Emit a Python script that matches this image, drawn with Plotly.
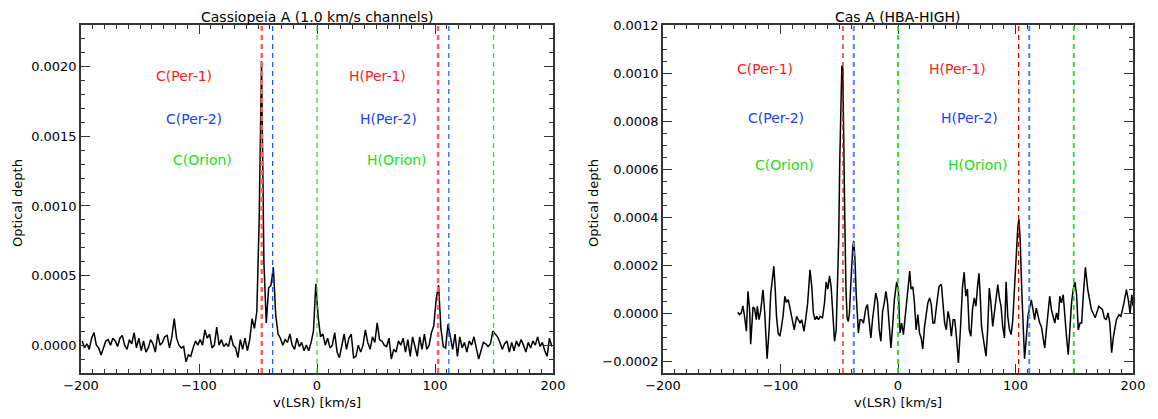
import numpy as np
import plotly.graph_objects as go

# ---------------- data ----------------
# Left panel: Cassiopeia A, 1.0 km/s channels (values in units of 1e-4 optical depth)
vel_left = np.arange(-199, 200, 2)
tau_left_e4 = [
    0.3, -0.2, 0.1, -0.3, 0.5, 0.9, 0.0, -0.2, -0.7, -0.2, 0.3, 0.4, 0.0, 0.5, 0.3, -0.1, 0.5, 0.7, 0.0, -0.3,
    0.4, 0.1, 0.9, -0.2, 0.5, -0.4, 0.3, -0.5, -0.2, 0.4, 0.1, -0.5, 0.8, 0.0, 0.2, 0.6, 0.7, -0.2, 0.6, 1.9,
    0.5, 0.0, -0.2, -0.1, -1.2, -0.7, -0.8, -0.2, 0.3, 0.0, 0.4, 0.0, 1.1, 0.5, 0.8, -0.2, 0.0, 1.3, 0.0, 0.4,
    -0.1, 0.1, -0.1, 0.7, 0.0, -0.2, -0.9, 0.4, -0.3, 0.5, -0.4, 0.4, 1.9, 1.2, 2.4, 9.0, 20.4, 6.0, 1.6, 4.1,
    4.3, 5.6, 2.2, 0.8, 0.5, 0.0, 0.4, 0.2, 0.8, 0.0, -0.3, 0.5, -0.1, 0.2, -0.4, 0.0, -0.4, 0.2, 1.0, 4.4,
    2.0, 0.6, 0.8, 0.0, 0.5, -0.2, 0.0, 0.9, -0.5, -0.9, 0.1, 0.8, -0.3, 0.5, 0.8, -0.9, -0.8, 0.0, -0.5, 0.0,
    1.1, 0.2, -0.3, 0.6, 0.2, 1.6, 0.4, 0.3, 0.0, -0.1, 0.5, -1.0, -0.3, -0.5, 0.3, 0.0, 0.5, -0.5, 0.4, -0.8,
    0.6, -0.2, -0.8, 0.6, -0.3, 0.8, -0.3, 0.0, 0.9, 1.4, 3.3, 4.3, 1.2, -0.1, -0.2, 1.5, 0.5, -0.3, 0.8, -0.8,
    0.6, -0.2, 0.2, -0.5, 0.3, 0.0, 0.6, -0.3, -1.0, -0.4, 0.2, 0.1, -0.1, 0.1, 1.0, 0.8, 0.6, 0.2, -0.3, 0.1,
    0.3, -0.5, 0.2, -0.4, 0.3, -0.1, 0.4, 0.0, -0.5, 0.2, -0.2, 0.3, 0.0, 0.6, -0.1, 0.2, -0.4, -0.8, 0.5, -0.1,
]

# Right panel: Cas A HBA-HIGH (values in units of 1e-4 optical depth)
vel_hba = [
    -136.3, -134.9, -133.4, -132.0, -130.6, -129.0, -127.7, -126.3, -125.4, -124.3, -123.4, -122.0, -120.6,
    -119.7, -118.3, -116.9, -114.9, -113.4, -111.4, -109.7, -108.3, -106.9, -105.7, -104.6, -103.4, -102.0,
    -100.6, -99.1, -97.7, -96.3, -94.9, -93.4, -92.0, -90.0, -88.3, -86.3, -84.9, -83.4, -82.0, -80.0, -78.6,
    -76.9, -74.9, -73.4, -72.0, -70.6, -69.1, -67.7, -66.3, -64.3, -62.6, -61.1, -59.7, -58.3, -56.9, -55.4,
    -54.0, -52.6, -51.5, -50.5, -49.5, -48.5, -47.8, -47.0, -46.2, -45.3, -44.3, -43.3, -42.3, -41.3, -40.2,
    -39.3, -38.4, -37.6, -36.6, -35.6, -34.6, -33.7, -32.3, -30.9, -29.4, -27.4, -26.0, -24.6, -23.1, -21.7,
    -20.3, -18.9, -17.4, -16.0, -14.6, -13.1, -11.7, -10.3, -8.9, -7.4, -6.0, -4.6, -3.1, -1.1, 0.3, 1.7, 3.1,
    4.6, 6.3, 8.3, 10.0, 11.1, 12.6, 14.0, 15.4, 16.9, 18.3, 19.7, 21.1, 22.6, 24.0, 25.4, 26.9, 28.3, 29.7,
    31.1, 33.1, 34.9, 36.9, 38.3, 39.7, 41.1, 42.6, 44.0, 45.4, 46.9, 48.3, 49.7, 51.4, 53.1, 54.9, 56.3, 57.7,
    59.1, 60.6, 62.0, 63.4, 64.9, 66.3, 67.7, 68.9, 70.0, 71.1, 72.3, 73.4, 74.9, 76.3, 77.7, 79.1, 80.6, 82.0,
    83.4, 84.9, 86.3, 87.7, 89.1, 90.6, 92.0, 93.4, 94.9, 96.3, 97.7, 99.1, 100.6, 102.0, 102.9, 104.0, 105.4,
    106.6, 107.7, 109.1, 110.6, 112.0, 113.4, 114.9, 116.3, 117.7, 119.1, 120.6, 122.0, 123.4, 124.9, 126.3,
    127.7, 129.1, 130.6, 132.0, 133.4, 134.9, 136.3, 137.7, 139.1, 140.6, 142.0, 143.4, 144.9, 146.3, 147.7,
    149.1, 150.6, 152.0, 153.4, 154.9, 156.3, 157.7, 159.5, 161.5, 164.6, 167.8, 170.9, 174.0, 175.6, 177.2,
    178.7, 180.3, 181.8, 183.4, 185.9, 188.1, 189.7, 192.2, 194.4, 196.0, 197.5, 199.0, 200.0,
]
tau_hba_e4 = [
    0.03, -0.07, 0.0, 0.3, -0.14, -0.76, 0.9, 0.14, -1.3, -0.28, 0.25, 0.17, -0.28,
    0.28, -0.28, 0.07, 0.97, 0.0, -1.9, -0.7, 0.83, 1.4, 1.95, 1.1, -0.14, -0.83,
    -0.97, -0.56, -0.07, 0.7, 0.44, 0.56, 0.14, -0.28, -0.7, -0.14, -0.28, -0.42, -0.28, -0.76, -0.28,
    0.4, 1.8, 1.1, 0.0, -0.28, -0.14, -0.28, -0.14, -0.2, 0.4, 1.3, 1.0, 1.55, 1.1, -0.28,
    -1.18, -0.7, 1.0, 3.0, 6.5, 9.5, 10.3, 10.2, 8.0, 4.0, 1.0, -0.2, -0.35, 0.0, 1.2,
    2.2, 2.8, 3.0, 2.2, 0.8, -0.3, -0.83, -0.28, -0.28, -0.42, 0.2, 0.35, -0.42, -1.04, -0.28,
    0.35, 0.83, 0.5, -0.7, -1.18, 0.07, 0.42, 0.9, 0.42, -0.7, -1.46, -0.56, 0.56, 1.3, 1.0, -0.83, -0.42,
    -0.9, 0.0, 1.04, 1.75, 1.0, 1.1, 0.42, -0.7, -0.07, -0.83, -1.04, -1.5, -0.56, 0.07, 0.42, 0.63, 0.35, -0.42,
    -0.42, 0.42, 1.1, 1.2, 0.42, -0.42, -0.7, 0.07, -0.28, -0.97, -0.28, -0.28, -0.97, -2.08, -0.7, 1.1, 1.7, 0.7,
    1.0, -0.7, -0.97, 0.14, 0.63, 0.28, 1.1, 1.65, 0.7, -0.56, -0.97, -1.4, -1.8, -0.7, 1.04, 0.42, -0.56, 0.0,
    0.7, 1.18, 0.63, 0.28, -0.56, -1.04, 1.3, -0.14, -0.7, -0.9, -0.28, 1.1, 2.6, 3.6, 3.9, 3.05, 0.83,
    -0.97, -1.9, -1.1, -0.14, 0.2, 0.55, 0.14, -0.28, 0.2, -0.14, -0.42, -0.56, -1.1, -1.46, -0.7,
    0.2, 0.7, 0.14, -0.14, -0.42, 0.0, -0.28, 0.7, 0.42, 0.76, -0.28, -0.97, -1.74, -0.7, 0.42,
    0.97, 1.3, 0.76, -0.7, -0.42, -0.42, 0.76, 1.9, 0.97, 0.14, -0.2, 0.28, 0.14, -0.2, -0.28,
    0.0, -0.42, -1.65, -0.97, -0.28, -0.07, -0.14, 0.4, 0.97, 0.55, 0.0, 0.76, 0.3,
]

# Line rest velocities (km/s): carbon and hydrogen RRL components
line_names = ["Per-1", "Per-2", "Orion"]
vel_C = [-46.8, -37.6, 0.0]
vel_H = [102.6, 111.7, 149.6]

panel_titles = ["Cassiopeia A (1.0 km/s channels)", "Cas A (HBA-HIGH)"]
x_title = "v(LSR) [km/s]"
y_title = "Optical depth"

tau_left = np.array(tau_left_e4) * 1e-4
tau_hba = np.array(tau_hba_e4) * 1e-4

# ---------------- figure ----------------
# The page body has an 8 px margin; lay the figure out in window pixels and compensate.
OFF = 8
W, H = 1142, 403
FONT = "DejaVu Sans"
FRAME = "#333333"

def px_x(p):
    return (p - OFF) / W

def px_y(p):
    return 1 - (p - OFF) / H

dom_left = [px_x(81), px_x(553)]
dom_right = [px_x(663), px_x(1133)]
dom_y = [px_y(373), px_y(25)]

fig = go.Figure()
fig.add_trace(go.Scatter(x=vel_left, y=tau_left, xaxis="x", yaxis="y", mode="lines",
                         line=dict(color="black", width=1.5), showlegend=False))
fig.add_trace(go.Scatter(x=vel_hba, y=tau_hba, xaxis="x2", yaxis="y2", mode="lines",
                         line=dict(color="black", width=1.5), showlegend=False))

axis_common = dict(showline=True, linecolor=FRAME, linewidth=1.5, mirror="ticks",
                   ticks="inside", ticklen=9, tickwidth=1, tickcolor=FRAME,
                   showgrid=False, zeroline=False, automargin=False,
                   tickfont=dict(family=FONT, size=13, color="black"))

fig.update_layout(
    template="none",
    width=W, height=H, autosize=False,
    margin=dict(l=0, r=0, t=0, b=0, pad=0),
    paper_bgcolor="white", plot_bgcolor="white",
    xaxis=dict(domain=dom_left, anchor="y", range=[-200, 200], dtick=100, tick0=0,
               minor=dict(dtick=10, ticklen=4, ticks="inside", tickcolor=FRAME), **axis_common),
    yaxis=dict(domain=dom_y, anchor="x", range=[-0.0002, 0.0023], dtick=0.0005, tick0=0,
               tickformat=".4f",
               minor=dict(dtick=0.0001, ticklen=4, ticks="inside", tickcolor=FRAME), **axis_common),
    xaxis2=dict(domain=dom_right, anchor="y2", range=[-200, 200], dtick=100, tick0=0,
                minor=dict(dtick=10, ticklen=4, ticks="inside", tickcolor=FRAME), **axis_common),
    yaxis2=dict(domain=dom_y, anchor="x2", range=[-0.00025, 0.0012], dtick=0.0002, tick0=0,
                tickformat=".4f",
                minor=dict(dtick=0.00005, ticklen=4, ticks="inside", tickcolor=FRAME), **axis_common),
)

# dashed marker lines
styles = {
    "x": [("#ff6060", 2.5), ("#2050ff", 1.2), ("#22dd22", 1.2)],
    "x2": [("#e00000", 1.2), ("#5a7dff", 2.0), ("#22dd22", 1.8)],
}
for xr, yr in (("x", "y"), ("x2", "y2")):
    for i in range(3):
        col, wd = styles[xr][i]
        for v in (vel_C[i], vel_H[i]):
            fig.add_shape(type="line", xref=xr, yref=f"{yr} domain", x0=v, x1=v, y0=0, y1=1,
                          line=dict(color=col, width=wd, dash="5px,4px"), layer="above")

# component labels
label_colors = ["#ff2020", "#2040ff", "#22dd22"]
label_x_C = [-113, -104, -97]
label_x_H = [51, 61, 68]
label_y = {"y": [0.883, 0.759, 0.612], "y2": [0.901, 0.762, 0.598]}
for xr, yr in (("x", "y"), ("x2", "y2")):
    for i, nm in enumerate(line_names):
        for pref, lx in (("C", label_x_C[i]), ("H", label_x_H[i])):
            fig.add_annotation(text=f"{pref}({nm})", xref=xr, yref=f"{yr} domain",
                               x=lx, y=label_y[yr][i], showarrow=False,
                               font=dict(family=FONT, size=14, color=label_colors[i]))

# titles and axis labels
for dom, t, yt_x in ((dom_left, panel_titles[0], px_x(17)), (dom_right, panel_titles[1], px_x(593))):
    cx = (dom[0] + dom[1]) / 2
    fig.add_annotation(text=t, xref="paper", yref="paper", x=cx, y=1.0, showarrow=False,
                       xanchor="center", yanchor="top", borderpad=0,
                       font=dict(family=FONT, size=14, color="black"))
    fig.add_annotation(text=x_title, xref="paper", yref="paper", x=cx, y=px_y(402), showarrow=False,
                       xanchor="center", yanchor="middle", font=dict(family=FONT, size=13, color="black"))
    fig.add_annotation(text=y_title, xref="paper", yref="paper", x=yt_x, y=px_y(203), showarrow=False,
                       textangle=-90, xanchor="center", yanchor="middle",
                       font=dict(family=FONT, size=13, color="black"))

fig.write_html("out.html")
